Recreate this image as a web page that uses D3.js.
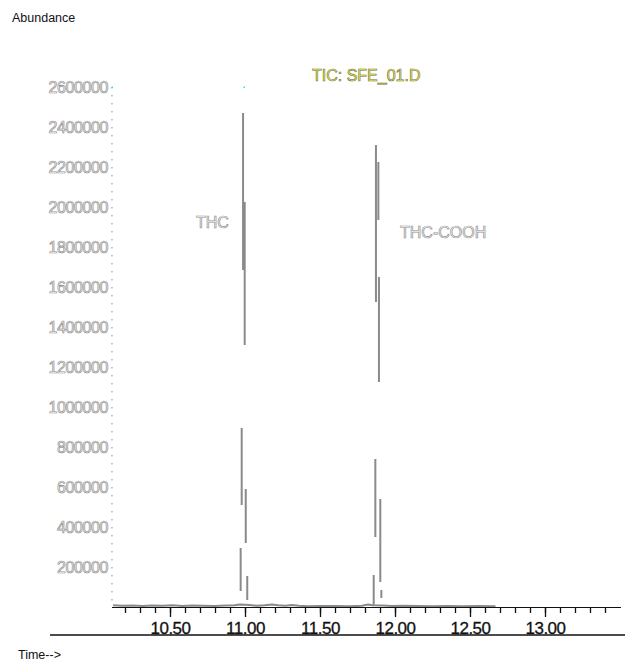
<!DOCTYPE html>
<html>
<head>
<meta charset="utf-8">
<script src="https://cdn.jsdelivr.net/npm/d3@7"></script>
<style>
  body { margin: 0; background: #fff; }
  svg { display: block; font-family: "Liberation Sans", Arial, sans-serif; }
</style>
</head>
<body>
<div id="chart"></div>
<script>
// y tick values (abundance)
var yTicks = [200000, 400000, 600000, 800000, 1000000, 1200000, 1400000,
  1600000, 1800000, 2000000, 2200000, 2400000, 2600000];
var xMajor = [10.5, 11.0, 11.5, 12.0, 12.5, 13.0];

// baseline trace (time, abundance)
var baseTimes = [10.12, 10.18, 10.25, 10.32, 10.38, 10.45, 10.52, 10.58, 10.65,
  10.72, 10.8, 10.87, 10.93, 10.965, 11.03, 11.08, 11.13, 11.18, 11.22, 11.27,
  11.31, 11.36, 11.42, 11.5, 11.6, 11.7, 11.78, 11.82, 11.85, 11.92, 11.98,
  12.05, 12.15, 12.25, 12.35, 12.45, 12.55, 12.67];
var baseValues = [9000, 6000, 7000, 5000, 8000, 6000, 9000, 5000, 7000,
  6000, 5000, 7000, 9000, 12000, 10000, 6000, 9000, 13000, 9000, 6000,
  10000, 6000, 4000, 5000, 5000, 4000, 6000, 12000, 9000, 7000, 5000,
  6000, 5000, 4000, 5000, 4000, 5000, 4000];

// THC peak scans: vertical strokes, low..high
var thcTimes = [10.971, 10.978, 10.987, 10.998, 11.005, 11.015];
var thcLow = [80000, 510000, 1685000, 1310000, 320000, 35000];
var thcHigh = [295000, 895000, 2470000, 2025000, 590000, 155000];

// THC-COOH peak scans
var coohTimes = [11.858, 11.869, 11.873, 11.889, 11.893, 11.902, 11.909];
var coohLow = [5000, 350000, 1525000, 1935000, 1125000, 125000, 45000];
var coohHigh = [160000, 740000, 2310000, 2225000, 1650000, 540000, 85000];

var width = 625, height = 663;

var svg = d3.select("#chart").append("svg")
  .attr("width", width)
  .attr("height", height);

var x = d3.scaleLinear().domain([10.1133, 13.5067]).range([112, 621]);
var y = d3.scaleLinear().domain([0, 2600000]).range([607, 87]);

// axis titles
svg.append("text").attr("x", 12).attr("y", 22)
  .attr("font-size", 12.5).attr("fill", "#111").text("Abundance");
svg.append("text").attr("x", 18).attr("y", 659)
  .attr("font-size", 12.5).attr("fill", "#111").text("Time-->");

// dotted y axis
svg.append("line")
  .attr("x1", 112).attr("x2", 112)
  .attr("y1", y(2600000)).attr("y2", y(0))
  .attr("stroke", "#999").attr("stroke-width", 1.2)
  .attr("stroke-dasharray", "1.5,6.5");

// little cyan marks at the top
[112, 244].forEach(function (cx) {
  svg.append("rect").attr("x", cx - 0.5).attr("y", y(2600000) - 0.5)
    .attr("width", 1.5).attr("height", 1.5).attr("fill", "#33e0e0");
});

// y tick labels, hollow grey digits
svg.selectAll(".ylab")
  .data(yTicks)
  .enter()
  .append("text")
  .attr("class", "ylab")
  .attr("x", 108)
  .attr("y", function (d) { return y(d) + 6; })
  .attr("text-anchor", "end")
  .attr("font-size", 16)
  .attr("letter-spacing", "-0.4")
  .attr("fill", "#fff")
  .attr("stroke", "#8f8f8f")
  .attr("stroke-width", 0.7)
  .text(function (d) { return d; });

// baseline trace
var line = d3.line()
  .x(function (d) { return x(d[0]); })
  .y(function (d) { return y(d[1]); });

svg.append("path")
  .datum(d3.zip(baseTimes, baseValues))
  .attr("d", line)
  .attr("fill", "none")
  .attr("stroke", "#8a8a8a")
  .attr("stroke-width", 2);

// x axis: minor ticks every 0.1
var xAxis = d3.axisBottom(x)
  .tickValues(d3.range(10.2, 13.45, 0.1))
  .tickSize(6)
  .tickFormat("");

var gx = svg.append("g")
  .attr("transform", "translate(0,607)")
  .call(xAxis);
gx.select(".domain").attr("stroke", "#111").attr("stroke-width", 1.2)
  .attr("d", "M112,0.5H621");
gx.selectAll(".tick line").attr("stroke", "#111").attr("stroke-width", 1.3);

// major ticks with labels
var gxMajor = svg.append("g")
  .attr("transform", "translate(0,607)")
  .call(d3.axisBottom(x).tickValues(xMajor).tickSize(10)
    .tickFormat(d3.format(".2f")));
gxMajor.select(".domain").remove();
gxMajor.selectAll(".tick line").attr("stroke", "#111").attr("stroke-width", 1.3);
gxMajor.selectAll(".tick text")
  .attr("y", 15)
  .attr("dy", "0.71em")
  .attr("font-size", 17)
  .attr("font-family", "'Liberation Sans', Arial, sans-serif")
  .attr("letter-spacing", "-0.5")
  .attr("fill", "#111")
  .attr("stroke", "#111")
  .attr("stroke-width", 0.3);

// lower rule
svg.append("line")
  .attr("x1", 50).attr("x2", 625)
  .attr("y1", 635).attr("y2", 635)
  .attr("stroke", "#111").attr("stroke-width", 1.5);

// peak scans
function drawScans(times, lo, hi) {
  svg.append("g")
    .selectAll("line")
    .data(times)
    .enter()
    .append("line")
    .attr("x1", function (d) { return x(d); })
    .attr("x2", function (d) { return x(d); })
    .attr("y1", function (d, i) { return y(lo[i]); })
    .attr("y2", function (d, i) { return y(hi[i]); })
    .attr("stroke", "#8a8a8a")
    .attr("stroke-width", 2);
}
drawScans(thcTimes, thcLow, thcHigh);
drawScans(coohTimes, coohLow, coohHigh);

// title and peak labels
svg.append("text").attr("x", 312).attr("y", 81)
  .attr("font-size", 16)
  .attr("fill", "#f4f23a").attr("stroke", "#707050").attr("stroke-width", 0.6)
  .text("TIC: SFE_01.D");

svg.append("text").attr("x", 196).attr("y", 228)
  .attr("font-size", 16)
  .attr("fill", "#fff").attr("stroke", "#8f8f8f").attr("stroke-width", 0.7)
  .text("THC");

svg.append("text").attr("x", 400).attr("y", 238)
  .attr("font-size", 16)
  .attr("fill", "#fff").attr("stroke", "#8f8f8f").attr("stroke-width", 0.7)
  .text("THC-COOH");
</script>
</body>
</html>
